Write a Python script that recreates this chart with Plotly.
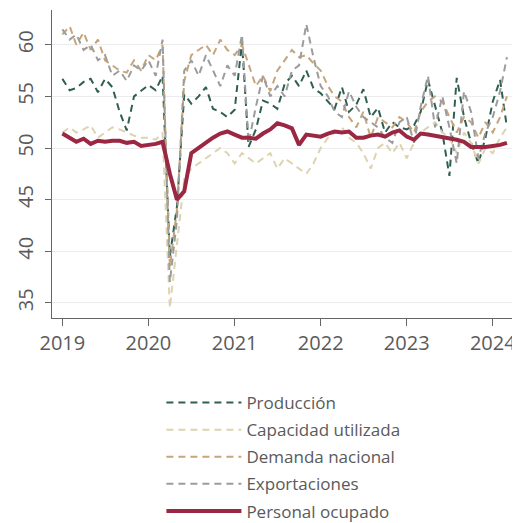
import plotly.graph_objects as go
import pandas as pd

months = pd.date_range("2019-01-01", "2024-03-01", freq="MS")

produccion = [
    56.7, 55.6, 55.8, 56.4, 56.7, 55.4, 56.7, 55.9, 53.5, 51.7, 55.0, 55.5,
    56.1, 55.6, 57.0, 39.5, 44.3, 55.2, 54.3, 55.0, 55.9, 53.8, 53.5, 53.0,
    53.7, 60.3, 50.1, 51.8, 54.6, 54.3, 53.8, 56.2, 57.0, 56.0, 57.5, 55.8,
    55.3, 54.5, 53.8, 55.9, 53.5, 54.2, 55.7, 53.0, 53.9, 51.5, 52.5, 52.0,
    51.8, 52.2, 53.5, 56.6, 54.0, 51.5, 47.3, 56.8, 53.0, 50.5, 48.5, 51.0,
    54.5, 56.6, 52.0,
]
capacidad = [
    51.5, 52.0, 51.5, 51.8, 52.2, 51.0, 51.5, 52.0, 51.8, 51.5, 51.2, 51.0,
    51.0, 50.8, 51.5, 34.5, 40.5, 47.0, 48.0, 48.5, 49.0, 49.5, 50.0, 49.5,
    48.5, 49.5, 49.0, 48.5, 49.0, 49.5, 48.0, 49.0, 48.5, 48.0, 47.5, 48.5,
    50.0, 51.0, 51.5, 52.0, 51.0, 50.5, 49.5, 48.0, 50.0, 50.5, 49.5, 50.5,
    49.0, 50.5, 51.5, 52.0, 52.5, 51.5, 51.0, 49.5, 51.5, 50.5, 48.5, 50.0,
    49.5, 51.0, 52.0,
]
demanda = [
    61.0, 61.8, 60.0, 61.2, 59.5, 60.5, 58.5, 58.0, 57.5, 57.3, 58.5, 57.5,
    59.0, 58.5, 60.0, 38.5, 44.0, 56.5, 59.0, 59.5, 60.0, 59.0, 60.5, 59.5,
    59.0, 60.0, 58.0, 56.0, 57.0, 55.5, 57.5, 58.5, 59.5, 58.8, 59.0, 58.2,
    57.5, 56.0, 55.0, 54.5, 53.0, 52.0, 53.5, 51.0, 53.0, 52.5, 52.0, 53.0,
    52.5, 51.5, 53.5, 54.5, 55.0, 54.5, 53.0, 51.5, 53.0, 52.5, 51.0, 52.5,
    51.5, 53.0, 55.0,
]
exportaciones = [
    61.5, 60.5, 61.0, 59.5, 60.0, 58.5, 59.0, 57.0, 57.5, 56.5, 58.0, 57.5,
    58.5, 57.0, 60.5, 37.0, 43.0, 57.5, 58.5, 57.0, 59.0, 57.5, 56.0, 58.0,
    57.0, 61.0, 50.5, 54.0, 57.0, 55.0, 56.0, 55.0, 57.5, 58.0, 62.0, 58.8,
    56.0, 55.0, 53.5, 53.0, 55.5, 54.0, 53.0, 52.5, 52.0, 51.0, 50.5, 52.5,
    53.0, 50.5, 54.0, 57.0, 52.0, 55.0, 52.0, 48.5, 55.5, 53.5, 49.0, 51.5,
    53.0, 55.5, 58.8,
]
personal = [
    51.4, 51.0, 50.6, 50.9, 50.4, 50.7, 50.6, 50.7, 50.7, 50.5, 50.6, 50.2,
    50.3, 50.4, 50.6, 47.5, 45.0, 45.8, 49.5, 50.0, 50.6, 51.0, 51.4, 51.6,
    51.3, 51.0, 51.0, 50.9, 51.4, 51.8, 52.4, 52.2, 51.9, 50.3, 51.3, 51.2,
    51.1, 51.4, 51.6, 51.5, 51.6, 51.0, 51.0, 51.2, 51.3, 51.1, 51.5, 51.7,
    51.1, 50.8, 51.4, 51.3, 51.2, 51.1, 51.0, 50.8, 50.6, 50.1, 50.1, 50.1,
    50.2, 50.3, 50.5,
]

names = ["Producción", "Capacidad utilizada", "Demanda nacional", "Exportaciones", "Personal ocupado"]
series = [produccion, capacidad, demanda, exportaciones, personal]
colors = ["#2f5f52", "#ddd3ae", "#c6a57c", "#9c9c9c", "#9b2743"]
widths = [2, 2, 2, 2, 4]
dashes = ["7px,5px", "7px,5px", "7px,5px", "7px,5px", "solid"]

fig = go.Figure()
for i, (n, s, c, w, d) in enumerate(zip(names, series, colors, widths, dashes)):
    fig.add_trace(go.Scatter(x=months, y=s, name=n, mode="lines",
                             legendgroup=f"g{i}",
                             line=dict(color=c, width=w, dash=d)))

font_color = "#5a5a5a"
fig.update_layout(
    width=512, height=515,
    margin=dict(l=44, r=2, t=2, b=205, autoexpand=False),
    plot_bgcolor="white", paper_bgcolor="white",
    font=dict(family="Open Sans", color=font_color),
    showlegend=True,
    legend=dict(
        xref="container", yref="container",
        x=0.2996, y=0.268, xanchor="left", yanchor="top",
        font=dict(size=17, color=font_color),
        itemwidth=75, tracegroupgap=2,
        bgcolor="rgba(0,0,0,0)",
    ),
)
fig.update_xaxes(
    type="date", range=["2018-11-18", "2024-04-17"],
    tickformat="%Y", dtick="M12", tick0="2019-01-01", tickangle=0,
    showgrid=False, showline=True, linecolor="#666666", linewidth=1,
    ticks="outside", ticklen=7, tickcolor="#666666",
    tickfont=dict(size=20, color=font_color), automargin=False,
    zeroline=False,
)
fig.update_yaxes(
    range=[33.53, 63.37], tickvals=[35, 40, 45, 50, 55, 60],
    showgrid=True, gridcolor="#ececec", gridwidth=1,
    showline=True, linecolor="#666666", linewidth=1,
    ticks="outside", ticklen=6, tickcolor="#666666",
    tickangle=-90, tickfont=dict(size=20, color=font_color), automargin=False,
    ticklabelstandoff=4,
    zeroline=False,
)

fig.write_html("out.html")
